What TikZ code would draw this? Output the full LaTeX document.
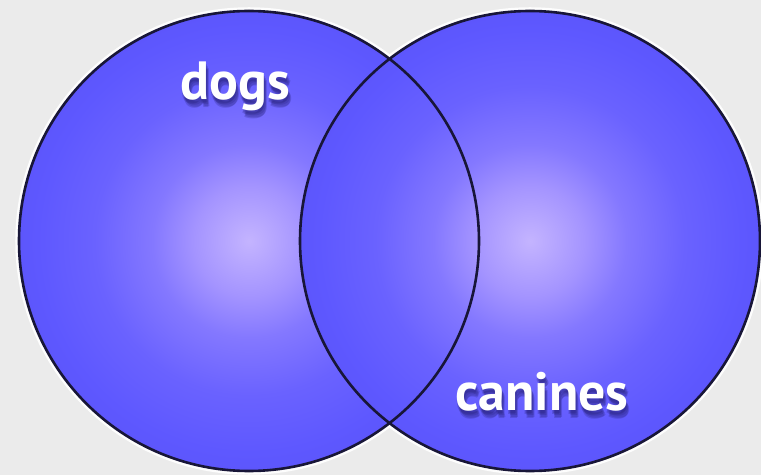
\documentclass[tikz,border=0pt]{standalone}
\usepackage{fontspec}
\setmainfont{PT Sans}
\begin{document}
\definecolor{bg}{HTML}{EBEBEB}
\definecolor{c0}{HTML}{C4B4FF}
\definecolor{c1}{HTML}{A494FF}
\definecolor{c2}{HTML}{8478FF}
\definecolor{c3}{HTML}{6A62FF}
\definecolor{c4}{HTML}{5E58FF}
\definecolor{c5}{HTML}{5952F6}
\definecolor{c6}{HTML}{4E48E2}
\definecolor{c7}{HTML}{4640D0}
\definecolor{outline}{HTML}{181638}
\definecolor{shadowc}{HTML}{2A2480}
\pgfdeclareradialshading{ball}{\pgfpoint{0bp}{0bp}}{color(0bp)=(c0); color(6bp)=(c1); color(10.5bp)=(c2); color(16.8bp)=(c3); color(23bp)=(c4); color(29bp)=(c5); color(33.5bp)=(c6); color(35.4bp)=(c7); color(100bp)=(c7)}
\begin{tikzpicture}[x=1bp,y=-1bp,
  disc/.style={circle, inner sep=0pt, minimum size=460bp, shading=ball},
  rim/.style={draw=outline, line width=2.6bp},
  halo/.style={draw=white, line width=2.5bp, opacity=0.9},
  lbl/.style={anchor=base, text=white, font=\bfseries\fontsize{54}{60}\selectfont},
  shd/.style={anchor=base, text=shadowc, opacity=0.25, font=\bfseries\fontsize{54}{60}\selectfont}]
\fill[bg] (0,0) rectangle (761,475);
\useasboundingbox (0,0) rectangle (761,475);
\coordinate (lc) at (249,241);
\coordinate (rc) at (530,241);
\draw[halo] (lc) circle[radius=232.5bp];
\draw[halo] (rc) circle[radius=232.5bp];
\node[disc] (L) at (lc) {};
\node[disc] (R) at (rc) {};
\draw[rim] (lc) circle[radius=230bp];
\draw[rim] (rc) circle[radius=230bp];
\foreach \dx/\dy in {1/3,2/5,3/7,0/4,2/8} {
  \node[shd] at (235+\dx,100+\dy) {dogs};
  \node[shd] at (542+\dx,410+\dy) {canines};
}
\node[lbl] (dogs) at (235,100) {dogs};
\node[lbl] (canines) at (542,410) {canines};
\end{tikzpicture}
\end{document}
